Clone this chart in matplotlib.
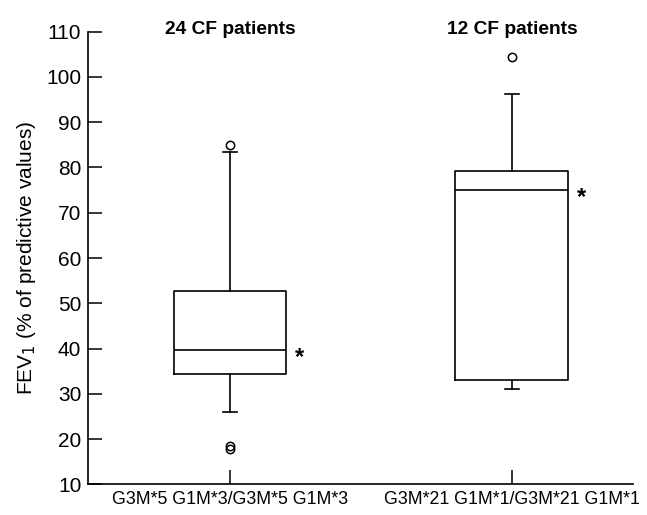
"""Box plots of FEV1 for two CF patient groups."""

import matplotlib
matplotlib.use("Agg")
from matplotlib import pyplot as plt

plt.rcParams["font.family"] = ["Liberation Sans", "DejaVu Sans"]

# Data
groups = ["G3M*5 G1M*3/G3M*5 G1M*3", "G3M*21 G1M*1/G3M*21 G1M*1"]
titles = ["24 CF patients", "12 CF patients"]
whislo = [26.0, 31.0]
q1 = [34.3, 33.0]
med = [39.7, 75.0]
q3 = [52.7, 79.2]
whishi = [83.5, 96.2]
fliers = [[85.0, 18.5, 17.8], [104.5]]
y_ticks = [10, 20, 30, 40, 50, 60, 70, 80, 90, 100, 110]


def main() -> None:
    fig = plt.figure(figsize=(6.47, 5.15), dpi=100)
    ax = fig.add_axes([0.1365, 0.0596, 0.8415, 0.8788])

    stats = []
    for i in range(len(groups)):
        stats.append(
            {
                "whislo": whislo[i],
                "q1": q1[i],
                "med": med[i],
                "q3": q3[i],
                "whishi": whishi[i],
                "fliers": fliers[i],
            }
        )
    positions = [1, 2]
    lw = 1.2
    ax.bxp(
        stats,
        positions=positions,
        widths=0.40,
        showfliers=True,
        boxprops=dict(color="black", linewidth=lw),
        medianprops=dict(color="black", linewidth=lw),
        whiskerprops=dict(color="black", linewidth=lw),
        capprops=dict(color="black", linewidth=lw),
        capwidths=0.05,
        flierprops=dict(
            marker="o",
            markerfacecolor="none",
            markeredgecolor="black",
            markersize=6,
            markeredgewidth=1.1,
        ),
    )

    # asterisks beside the medians
    for pos, m in zip(positions, med):
        ax.annotate(
            "*",
            xy=(pos + 0.20, m),
            xytext=(6, -10),
            textcoords="offset points",
            ha="left",
            va="baseline",
            fontsize=17,
            fontweight="bold",
        )

    # group titles above the plot
    for pos, t in zip(positions, titles):
        ax.text(
            pos,
            110.6,
            t,
            ha="center",
            va="center",
            fontsize=13.8,
            fontweight="bold",
            clip_on=False,
        )

    ax.set_xlim(0.4975, 2.429)
    ax.set_ylim(10, 110)
    ax.set_yticks(y_ticks)
    ax.set_xticks(positions)
    ax.set_xticklabels(groups, fontsize=12.8)
    ax.tick_params(axis="y", direction="in", length=10, width=1.1,
                   labelsize=15, pad=5)
    ax.tick_params(axis="x", direction="in", length=10, width=1.1, pad=5)
    ax.set_ylabel("FEV$_1$ (% of predictive values)", fontsize=15,
                  labelpad=6)

    for side in ["top", "right"]:
        ax.spines[side].set_visible(False)
    for side in ["left", "bottom"]:
        ax.spines[side].set_linewidth(1.2)

    fig.savefig("out.png", dpi=100)
    plt.close(fig)


if __name__ == "__main__":
    main()
